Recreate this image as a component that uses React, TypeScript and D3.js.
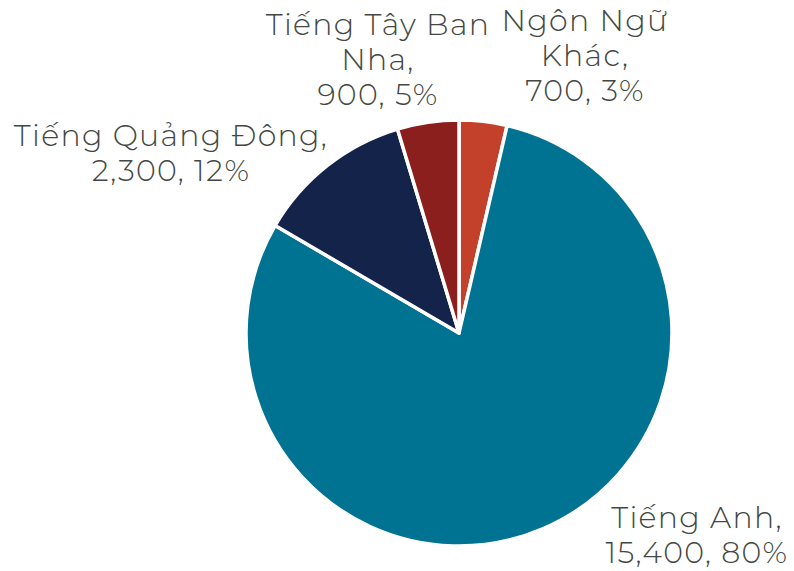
import { arc, pie, PieArcDatum } from "d3"

const languages = ["Ngôn Ngữ Khác", "Tiếng Anh", "Tiếng Quảng Đông", "Tiếng Tây Ban Nha"]
const speakers = [700, 15400, 2300, 900]
const percents = ["3%", "80%", "12%", "5%"]
const colors = ["#c3412a", "#007393", "#13234a", "#8b1f1d"]

// label lines (as the chart wraps them) and their anchor positions
const labelLines = [
  ["Ngôn Ngữ", "Khác,"],
  ["Tiếng Anh,"],
  ["Tiếng Quảng Đông,"],
  ["Tiếng Tây Ban", "Nha,"],
]
const labelPos = [
  { x: 585, y: 31 },
  { x: 697, y: 528 },
  { x: 171, y: 146 },
  { x: 378, y: 35 },
]

const WIDTH = 794
const HEIGHT = 571
const CX = 459
const CY = 333
const R = 213
const LINE = 35

type Row = { name: string; value: number; pct: string; color: string }

const rows: Row[] = languages.map((name, i) => ({
  name,
  value: speakers[i],
  pct: percents[i],
  color: colors[i],
}))

export default function App() {
  const slices = pie<Row>().value((d) => d.value).sort(null)(rows)
  const sliceArc = arc<PieArcDatum<Row>>().innerRadius(0).outerRadius(R)
  const fmt = (v: number) => v.toLocaleString("en-US")

  return (
    <svg
      width={WIDTH}
      height={HEIGHT}
      style={{ position: "absolute", left: 0, top: 0, background: "#fff" }}
      fontFamily="Montserrat, 'Open Sans', sans-serif"
    >
      <g transform={`translate(${CX},${CY})`}>
        {slices.map((d, i) => (
          <path key={i} d={sliceArc(d) || ""} fill={d.data.color} stroke="#fff" strokeWidth={3.5} strokeLinejoin="round" />
        ))}
      </g>
      {slices.map((d, i) => {
        const lines = [...labelLines[i], `${fmt(d.data.value)}, ${d.data.pct}`]
        const p = labelPos[i]
        return (
          <text key={i} x={p.x} y={p.y} textAnchor="middle" fontSize={30} fontWeight={300} letterSpacing={1.3} fill="#434843">
            {lines.map((t, j) => (
              <tspan key={j} x={p.x} dy={j === 0 ? 0 : LINE}>
                {t}
              </tspan>
            ))}
          </text>
        )
      })}
    </svg>
  )
}
